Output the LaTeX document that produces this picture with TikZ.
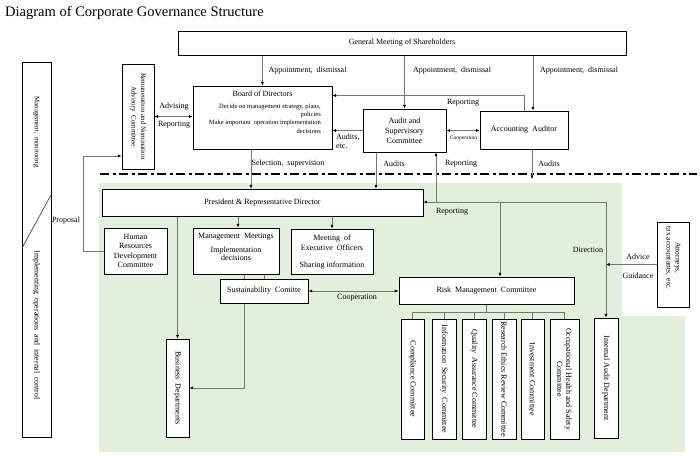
\documentclass[tikz,border=0pt]{standalone}
\usepackage{fontspec}
\setmainfont{Liberation Serif}
\usetikzlibrary{arrows.meta}
\definecolor{lgreen}{RGB}{226,239,218}
\definecolor{conncol}{RGB}{118,118,118}
\begin{document}
\begin{tikzpicture}[x=1pt,y=-1pt,
  box/.style={draw=black, line width=1pt, fill=white, inner sep=0pt},
  lbl/.style={font=\fontsize{8}{9.5}\selectfont, inner sep=0pt, align=center},
  rlbl/.style={lbl, rotate=-90},
  sml/.style={font=\fontsize{6.5}{8.3}\selectfont, inner sep=0pt},
  tiny/.style={font=\fontsize{5.5}{6}\selectfont, inner sep=0pt},
  conn/.style={draw=conncol, line width=0.7pt},
  arr/.style={conn, -{Latex[length=3.6pt,width=3.2pt,color=black]}},
  darr/.style={conn, {Latex[length=3.6pt,width=3.2pt,color=black]}-{Latex[length=3.6pt,width=3.2pt,color=black]}},
  divider/.style={draw=black, line width=1.8pt, dash pattern=on 9pt off 3.5pt on 3pt off 3.5pt}
]
\useasboundingbox (0,0) rectangle (700,456);
% green area
\fill[lgreen] (99,183) -- (622,183) -- (622,316) -- (685,316) -- (685,452) -- (99,452) -- cycle;
% title
\node[font=\fontsize{14.5}{16}\selectfont, inner sep=0pt, anchor=base west] (title) at (5,16.5) {Diagram of Corporate Governance Structure};
% divider
\draw[divider] (100,174) -- (697,174);

% left bar
\node[box, minimum width=29pt, minimum height=375pt] (bar) at (36.5,249.5) {};
\draw[draw=black!80, line width=0.6pt] (51,195) -- (22,248);
\node[lbl, rotate=-90, font=\fontsize{6.8}{8}\selectfont] (barA) at (36.5,132) {Management,\ \ monitoring};
\node[lbl, rotate=-90, font=\fontsize{7.8}{9}\selectfont] (barB) at (36.5,325) {Implementing\ \ operations\ \ and\ \ internal\ \ control};

% boxes
\node[box, minimum width=448pt, minimum height=24pt, lbl] (gms) at (402,43) {General Meeting of Shareholders};
\node[box, minimum width=32pt, minimum height=105pt] (rem) at (138,116.5) {};
\node[rlbl, font=\fontsize{7}{9.5}\selectfont] at (rem) {Remuneration and Nomination\\Advisory\ \ Committee};
\node[box, minimum width=139pt, minimum height=63pt] (board) at (262.5,117.5) {};
\node[lbl] (boardT) at (262.5,94) {Board of Directors};
\node[sml, anchor=north east, align=right] (boardS) at (321,103.5) {Decide on management strategy, plans,\\policies\\Make important\ \ operation implementation\\decisions};
\node[box, minimum width=83pt, minimum height=43pt, lbl, font=\fontsize{8}{10}\selectfont] (asc) at (404.5,130.5) {Audit and\\Supervisory\\Committee};
\node[box, minimum width=88pt, minimum height=38pt, lbl] (aa) at (524,130) {Accounting\ \ Auditor};
\node[box, minimum width=321pt, minimum height=27pt, lbl] (pres) at (262.5,202.5) {President \& Representative Director};
\node[box, minimum width=63pt, minimum height=46pt, lbl, font=\fontsize{8}{9.3}\selectfont] (hr) at (135.5,251) {Human\\Resources\\Development\\Committee};
\node[box, minimum width=86pt, minimum height=46pt] (mm) at (236,251) {};
\node[lbl] (mmT) at (236,237) {Management\ \ Meetings};
\node[lbl, font=\fontsize{8}{8.5}\selectfont] (mmS) at (236,254) {Implementation\\decisions};
\node[box, minimum width=82pt, minimum height=45pt] (meo) at (332,251.5) {};
\node[lbl, font=\fontsize{8}{10}\selectfont] (meoT) at (332,243) {Meeting\ \ of\\Executive\ \ Officers};
\node[lbl] (meoS) at (332,266) {Sharing information};
\node[box, minimum width=88pt, minimum height=24pt, lbl] (sus) at (264,291) {Sustainability\ \ Comitte};
\node[box, minimum width=175pt, minimum height=27pt, lbl] (rmc) at (486.5,290.5) {Risk\ \ Management\ \ Committee};
\node[box, minimum width=32pt, minimum height=85pt] (att) at (673,264.5) {};
\node[rlbl, font=\fontsize{7.5}{9}\selectfont] at (673,258) {Attorneys,\\tax accountants,\ \ etc.};
\node[box, minimum width=23pt, minimum height=98pt] (bd) at (177.5,388) {};
\node[rlbl] at (bd) {Business\ \ Departments};
\node[box, minimum width=24pt, minimum height=120pt] (iad) at (606,378) {};
\node[rlbl] at (iad) {Internal Audit Department};

% committees
\node[box, minimum width=23pt, minimum height=120pt] (comp) at (412.5,379) {};
\node[rlbl] at (comp) {Compliance Committee};
\node[box, minimum width=24pt, minimum height=120pt] (iss) at (444,379) {};
\node[rlbl] at (iss) {Information\ \ Security\ \ Committee};
\node[box, minimum width=24pt, minimum height=120pt] (qa) at (474,379) {};
\node[rlbl] at (qa) {Quality\ \ Assurance Committee};
\node[box, minimum width=24pt, minimum height=120pt] (rer) at (504,379) {};
\node[rlbl] at (rer) {Research Ethics Review Committee};
\node[box, minimum width=23pt, minimum height=120pt] (inv) at (532.5,379) {};
\node[rlbl] at (inv) {Investment Committee};
\node[box, minimum width=29pt, minimum height=120pt] (ohs) at (564.5,379) {};
\node[rlbl, font=\fontsize{8}{9}\selectfont] at (ohs) {Occupational Health and Safety\\Committee};

% connectors: shareholders
\draw[arr] (board.north |- gms.south) -- (board.north);
\draw[arr] (asc.north |- gms.south) -- (asc.north);
\draw[arr] ([xshift=9pt]aa.north |- gms.south) -- ([xshift=9pt]aa.north);
\node[lbl] at (307.5,71) {Appointment,\ \ dismissal};
\node[lbl] at (452,71) {Appointment,\ \ dismissal};
\node[lbl] at (579,71) {Appointment,\ \ dismissal};

% remuneration
\draw[darr] (rem.east) -- (rem.east -| board.west);
\node[lbl] at (174,107) {Advising};
\node[lbl] at (174,125) {Reporting};

% auditor reporting to board
\draw[arr] (aa.north) |- ([yshift=22pt]board.east);
\node[lbl] at (463,103) {Reporting};
% audits etc
\draw[arr] (asc.west) -- (asc.west -| board.east);
\node[lbl, anchor=north west, align=left, font=\fontsize{8}{9}\selectfont] at (336,134) {Audits,\\etc.};
% cooperation
\draw[darr] (asc.east) -- (asc.east -| aa.west);
\node[tiny] at (463.5,138) {Cooperation};

% board / committee to president
\draw[arr] ([xshift=-11.5pt]board.south) -- ([xshift=-11.5pt]board.south |- pres.north);
\node[lbl] at (288,164) {Selection,\ \ supervision};
\draw[arr] ([xshift=-28.5pt]asc.south) -- ([xshift=-28.5pt]asc.south |- pres.north);
\node[lbl] at (394,164) {Audits};
\coordinate (aend) at (532,179);
\draw[arr] (aend |- aa.south) -- (aend);
\node[lbl] at (549,164) {Audits};

% reporting network
\coordinate (rj) at (606,202);
\coordinate (rj2) at (500,202);
\coordinate (rj3) at (436,202);
\draw[arr] (rj) -- (rj -| pres.east);
\draw[arr] (rj3) -- (rj3 |- asc.south);
\draw[arr] (rj2) -- (rj2 |- rmc.north);
\draw[arr] (rj) -- (iad.north);
\node[lbl] at (461,164) {Reporting};
\node[lbl] at (452,212) {Reporting};
\node[lbl] at (588,250) {Direction};

% advice
\draw[arr] (att.west) -- (att.west -| iad.north);
\node[lbl] at (638,257) {Advice};
\node[lbl] at (638,276) {Guidance};

% president to bodies
\draw[arr] ([xshift=2pt]mm.north |- pres.south) -- ([xshift=2pt]mm.north);
\draw[arr] (meo.north |- pres.south) -- (meo.north);
\draw[arr] (bd.north |- pres.south) -- (bd.north);

% proposal
\coordinate (pp) at (83,156);
\draw[arr] (hr.west) -| (pp) -- (pp -| rem.west);
\node[lbl] at (66,221) {Proposal};

% management meetings to sustainability
\draw[conn] (sus.north) -- (sus.north |- mm.south);
\draw[conn] ([xshift=-20pt]sus.north) -- ([xshift=-20pt]sus.north |- mm.south);
\draw[arr] ([xshift=-20pt]sus.south) |- (bd.east);
\draw[darr] (sus.east) -- (sus.east -| rmc.west);
\node[lbl] at (357,297.5) {Cooperation};

% risk management tree
\coordinate (tj) at (487,312);
\draw[conn] (rmc.south) -- (rmc.south |- tj);
\draw[conn] (comp.north) |- (ohs.north |- tj) -- (ohs.north);
\foreach \n in {iss,qa,rer,inv} \draw[conn] (\n.north) -- (\n.north |- tj);
\end{tikzpicture}
\end{document}
